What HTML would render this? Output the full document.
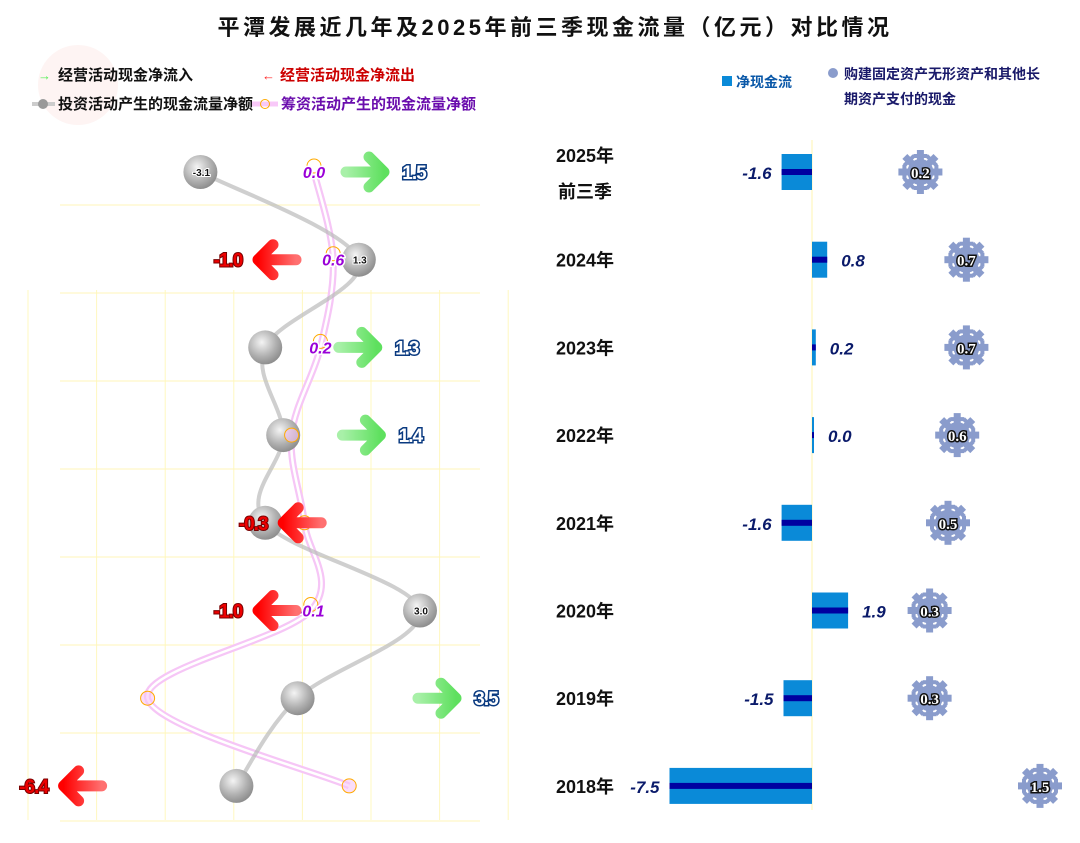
<!DOCTYPE html>
<html><head><meta charset="utf-8"><style>
body{margin:0;background:#fff;}
svg{display:block;font-family:"Liberation Sans","Noto Sans CJK SC",sans-serif;}
</style></head><body>
<svg id="c" width="1080" height="843" viewBox="0 0 1080 843">
<defs>
<radialGradient id="ball" cx="0.4" cy="0.35" r="0.7"><stop offset="0" stop-color="#f4f4f4"/><stop offset="0.6" stop-color="#b0b0b0"/><stop offset="1" stop-color="#888"/></radialGradient>
<linearGradient id="gArrow" x1="0" x2="1"><stop offset="0" stop-color="#a8f0a8"/><stop offset="1" stop-color="#5ee05e"/></linearGradient>
<linearGradient id="rArrow" x1="0" x2="1"><stop offset="0" stop-color="#ff0000"/><stop offset="1" stop-color="#ff7070"/></linearGradient>
</defs>
<text x="555" y="35" text-anchor="middle" font-size="22" font-weight="bold" fill="#111" letter-spacing="3.5">平潭发展近几年及2025年前三季现金流量（亿元）对比情况</text>
<circle cx="78" cy="85" r="40" fill="#fdf0ee" opacity="0.7"/>
<g>
<g><text x="38" y="80" font-size="13" fill="#5e5" font-weight="bold">→</text><text x="58" y="80" font-size="15" font-weight="bold" fill="#111">经营活动现金净流入</text></g>
<g><text x="262" y="80" font-size="13" fill="#f22" font-weight="bold">←</text><text x="280" y="80" font-size="15" font-weight="bold" fill="#c00">经营活动现金净流出</text></g>
<g><line x1="32" y1="104" x2="55" y2="104" stroke="#ccc" stroke-width="4"/><circle cx="43" cy="104" r="5" fill="#999"/><text x="58" y="109" font-size="15" font-weight="bold" fill="#111">投资活动产生的现金流量净额</text></g>
<g><line x1="252" y1="104" x2="278" y2="104" stroke="#f8c8f8" stroke-width="5"/><circle cx="265" cy="104" r="4.5" fill="none" stroke="#fa0" stroke-width="1"/><text x="281" y="109" font-size="15" font-weight="bold" fill="#6a0dad">筹资活动产生的现金流量净额</text></g>
<g><rect x="722" y="76" width="10" height="10" fill="#0a8ad8"/><text x="736" y="87" font-size="14" font-weight="bold" fill="#0a58a8">净现金流</text></g>
<g><circle cx="833" cy="73" r="5" fill="#8a9ccc"/><text x="844" y="79" font-size="14" font-weight="bold" fill="#1a1a6a">购建固定资产无形资产和其他长</text><text x="844" y="104" font-size="14" font-weight="bold" fill="#1a1a6a">期资产支付的现金</text></g>
</g>
<g id="grid"></g>
<g id="marks"></g>
</svg>
<script>
const years = ["2025年","2024年","2023年","2022年","2021年","2020年","2019年","2018年"];
const operating = [1.5,-1.0,1.3,1.4,-0.3,-1.0,3.5,-6.4];
const investing = [-3.1,1.3,-1.3,-0.8,-1.3,3.0,-0.4,-2.1];
const investingLabels = ["-3.1","1.3","","","","3.0","",""];
const financing = [0.0,0.6,0.2,-0.7,-0.3,-0.1,-5.2,1.1];
const financingLabels = ["0.0","0.6","0.2","","","-0.1","",""];
const netCash = [-1.6,0.8,0.2,0.0,-1.6,1.9,-1.5,-7.5];
const capex = [0.2,0.7,0.7,0.6,0.5,0.3,0.3,1.5];

const NS="http://www.w3.org/2000/svg";
const g=document.getElementById('marks'), grid=document.getElementById('grid');
function el(t,a,p){const e=document.createElementNS(NS,t);for(const k in a)e.setAttribute(k,a[k]);(p||g).appendChild(e);return e;}
const yRow=i=>172+i*87.7;
const xL=v=>312+36*v;
const xF=v=>314+32*v;
const xBar=v=>812+19*v;
const xCap=v=>902+92*v;

for(let k=0;k<8;k++){const x=28+k*68.6;const e=el('line',{x1:x,y1:290,x2:x,y2:820,stroke:'#fff8c0','stroke-width':1},grid);}
for(let k=0;k<8;k++){const y=205+k*88;const e=el('line',{x1:60,y1:y,x2:480,y2:y,stroke:'#fff6b8','stroke-width':1},grid);}
const ax=el('line',{x1:812,y1:140,x2:812,y2:810,stroke:'#fff6b0','stroke-width':1},grid);



function smooth(pts){let d='M'+pts[0][0]+','+pts[0][1];for(let i=0;i<pts.length-1;i++){const p0=pts[i-1]||pts[i],p1=pts[i],p2=pts[i+1],p3=pts[i+2]||p2;const c1=[p1[0]+(p2[0]-p0[0])/6,p1[1]+(p2[1]-p0[1])/6],c2=[p2[0]-(p3[0]-p1[0])/6,p2[1]-(p3[1]-p1[1])/6];d+=' C'+c1+' '+c2+' '+p2;}return d;}

const fp=financing.map((v,i)=>[xF(v),yRow(i)]);
const fl1=el('path',{d:smooth(fp),fill:'none',stroke:'#f6c6f6','stroke-width':7});


el('path',{d:smooth(fp),fill:'none',stroke:'#fff','stroke-width':2.5});
const ip=investing.map((v,i)=>[xL(v),yRow(i)]);
const il=el('path',{d:smooth(ip),fill:'none',stroke:'#bbb','stroke-width':4,opacity:0.7});



investing.forEach((v,i)=>{
 const c=el('circle',{cx:xL(v),cy:yRow(i),r:17,fill:'url(#ball)'});
 
 
 if(investingLabels[i]){const t=el('text',{x:xL(v)+1,y:yRow(i)+4,'text-anchor':'middle','font-size':10,'font-weight':'bold',fill:'#111',stroke:'#fff','stroke-width':2,'paint-order':'stroke'});t.textContent=investingLabels[i];
 
 }
});
financing.forEach((v,i)=>{
 const c=el('circle',{cx:xF(v),cy:yRow(i)-(financingLabels[i]?6:0),r:7,fill:financingLabels[i]?'none':'#f6c6f6','fill-opacity':0.6,stroke:'#fa0','stroke-width':1});
 
 
 if(financingLabels[i]){const t=el('text',{x:xF(v),y:yRow(i)+6,'text-anchor':'middle','font-size':16,'font-weight':'bold','font-style':'italic',fill:'#9a00d8',stroke:'#fff','stroke-width':3,'paint-order':'stroke'});t.textContent=financingLabels[i];
 
 }
});
operating.forEach((v,i)=>{
 const s=v>=0?1:-1, tip=xL(v)+s*20, y=yRow(i), b=tip-s*40;
 const a=el('path',{d:`M${b},${y} L${tip-s*6},${y} M${tip-s*17},${y-15} L${tip-s*2},${y} L${tip-s*17},${y+15}`,fill:'none',stroke:s>0?'url(#gArrow)':'url(#rArrow)','stroke-width':11,'stroke-linecap':'round','stroke-linejoin':'round'});
 
 
 const t=el('text',{x:tip+s*28,y:y+7,'text-anchor':'middle','font-size':19,'font-weight':'bold',fill:s>0?'#fff':'#e00',stroke:s>0?'#0a3a80':'#700','stroke-width':s>0?3:2,'paint-order':'stroke','letter-spacing':-1});
 t.textContent=v.toFixed(1);
 
 
});
years.forEach((y,i)=>{
 const t=el('text',{x:585,y:yRow(i)+(i==0?-10:7),'text-anchor':'middle','font-size':18,'font-weight':'bold',fill:'#111'});t.textContent=y;
 
 
});
const q=el('text',{x:585,y:yRow(0)+26,'text-anchor':'middle','font-size':18,'font-weight':'bold',fill:'#111'});q.textContent='前三季';


netCash.forEach((v,i)=>{
 const y=yRow(i), x0=Math.min(xBar(0),xBar(v)), w=Math.max(Math.abs(xBar(v)-xBar(0)),2);
 const r=el('rect',{x:x0,y:y-18,width:w,height:36,fill:'#0a8ad8'});
 
 
 el('rect',{x:x0,y:y-3,width:w,height:6,fill:'#0000a0'});
 const t=el('text',{x:v<0?x0-10:x0+w+14,y:y+7,'text-anchor':v<0?'end':'start','font-size':17,'font-weight':'bold','font-style':'italic',fill:'#0a1a6a'});t.textContent=v.toFixed(1);
 
 
});
capex.forEach((v,i)=>{
 const cx=xCap(v), cy=yRow(i);
 const gg=el('g',{fill:'#8a9ccc'});
 
 
 el('circle',{cx,cy,r:13},gg);
 for(let k=0;k<8;k++){el('rect',{x:cx-3.5,y:cy-22,width:7,height:12,transform:`rotate(${k*45} ${cx} ${cy})`},gg);
  el('rect',{x:cx-7,y:cy-18,width:14,height:4,transform:`rotate(${k*45} ${cx} ${cy})`},gg);}
 const t=el('text',{x:cx,y:cy+6,'text-anchor':'middle','font-size':15,'font-weight':'bold',fill:'#fff',stroke:'#111','stroke-width':3,'paint-order':'stroke','font-family':'Liberation Serif, serif'});t.textContent=v.toFixed(1);
 
 
});
</script>
</body></html>
